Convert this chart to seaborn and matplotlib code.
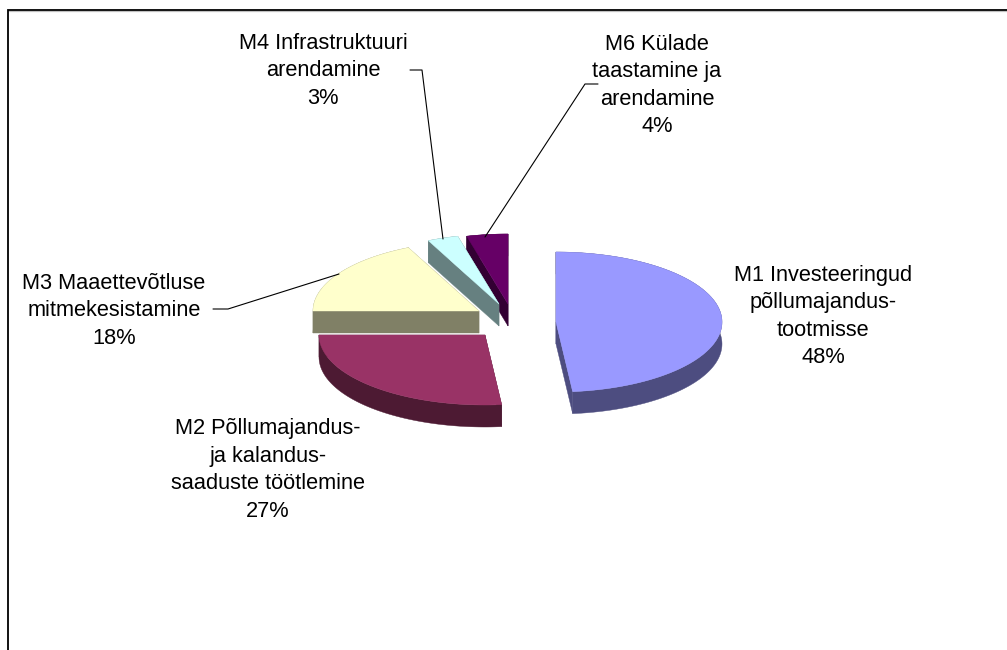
"""Exploded 3D-style pie of measure shares, drawn on a pixel-scaled seaborn axes."""
import matplotlib

matplotlib.use("Agg")
import matplotlib.pyplot as plt
import numpy as np
import seaborn as sns
from matplotlib.patches import Polygon

categories = ["M1", "M2", "M3", "M4", "M6"]
shares = [48.4, 26.6, 18.0, 3.0, 4.0]
label_names = [
    "M1 Investeeringud\npõllumajandus-\ntootmisse",
    "M2 Põllumajandus-\nja kalandus-\nsaaduste töötlemine",
    "M3 Maaettevõtluse\nmitmekesistamine",
    "M4 Infrastruktuuri\narendamine",
    "M6 Külade\ntaastamine ja\narendamine",
]
slice_colors = ["#9999FF", "#993366", "#FFFFCC", "#CCFFFF", "#660066"]

# layout, pixels of the 1007x650 picture
apex_x = [556, 485, 479, 499, 508]
apex_y = [322, 335, 311, 304, 304]
label_x = [823, 268, 114, 323, 657]
label_y = [316.5, 470, 311, 71, 85.5]
leaders = {
    "M3": ([213, 228, 339], [309, 309, 274]),
    "M4": ([410, 422, 443], [70, 70, 239]),
    "M6": ([598, 585, 485], [84, 84, 237]),
}
RX, RY, DEPTH = 166, 70, 22

sns.set_theme(style="white")
plt.rcParams["font.family"] = ["Liberation Sans", "DejaVu Sans"]
palette = sns.color_palette(slice_colors)


def rim(cx, cy, start, end):
    """Outer edge of a slice, angles in degrees clockwise from 12 o'clock."""
    theta = np.radians(np.linspace(start, end, 120))
    return np.column_stack([cx + RX * np.sin(theta), cy - RY * np.cos(theta)])


def draw_slice(ax, cx, cy, start, end, color):
    top = np.vstack([[cx, cy], rim(cx, cy, start, end)])
    side = tuple(c * 0.5 for c in color)
    drop = np.array([0, DEPTH])
    # walls first, the top face then hides whichever ones face away
    arc = top[1:]
    walls = [
        np.vstack([arc, (arc + drop)[::-1]]),
        np.vstack([top[0], arc[0], arc[0] + drop, top[0] + drop]),
        np.vstack([top[0], arc[-1], arc[-1] + drop, top[0] + drop]),
    ]
    for wall in walls:
        ax.add_patch(Polygon(wall, closed=True, facecolor=side, edgecolor=side, lw=0.3))
    ax.add_patch(Polygon(top, closed=True, facecolor=color, edgecolor=color, lw=0.3))


fig, ax = plt.subplots(figsize=(10.07, 6.5), dpi=100)
fig.subplots_adjust(0, 0, 1, 1)
ax.set_xlim(0, 1007)
ax.set_ylim(650, 0)
ax.axis("off")

# chart frame, only top and left are inside the crop
ax.plot([9, 1007], [10.5, 10.5], color="#c0c0c0", lw=0.9)
ax.plot([8, 8, 1007], [650, 9.5, 9.5], color="black", lw=1.3, solid_joinstyle="miter")

edges = np.concatenate([[0], np.cumsum(shares)]) * 3.6
for i in [4, 3, 0, 2, 1]:
    draw_slice(ax, apex_x[i], apex_y[i], edges[i], edges[i + 1], palette[i])

for xs, ys in leaders.values():
    ax.plot(xs, ys, color="black", lw=0.8)

for i, name in enumerate(label_names):
    ax.text(label_x[i], label_y[i], f"{name}\n{round(shares[i])}%",
            ha="center", va="center", fontsize=15.7, color="black",
            linespacing=1.4)

plt.savefig("out.png", dpi=100)
plt.close()
